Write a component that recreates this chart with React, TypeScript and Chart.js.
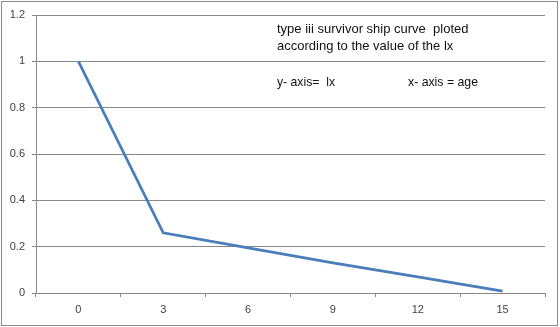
import React, { useEffect, useRef } from "react";
import { Chart, registerables } from "chart.js";

Chart.register(...registerables);

const ages = ["0", "3", "6", "9", "12", "15"];
const lxValues = [1, 0.26, 0.195, 0.13, 0.07, 0.008];
const yTicks = [0, 0.2, 0.4, 0.6, 0.8, 1, 1.2];
const noteLines = [
  "type iii survivor ship curve  ploted",
  "according to the value of the lx",
];
const yAxisNote = "y- axis=  lx";
const xAxisNote = "x- axis = age";

const annotationPlugin = {
  id: "notes",
  afterDraw(chart: any) {
    const ctx = chart.ctx as CanvasRenderingContext2D;
    ctx.save();
    ctx.strokeStyle = "#8a8a8a";
    ctx.lineWidth = 1;
    ctx.strokeRect(1.5, 1.5, 556, 324);
    ctx.fillStyle = "#111111";
    ctx.font = "13px 'Liberation Sans', Arial, sans-serif";
    ctx.textBaseline = "middle";
    ctx.textAlign = "left";
    ctx.fillText(noteLines[0], 277, 29, 196);
    ctx.fillText(noteLines[1], 277, 46, 180);
    ctx.fillText(yAxisNote, 277, 82, 58);
    ctx.fillText(xAxisNote, 408, 82, 70);
    ctx.restore();
  },
};

export default function App() {
  const ref = useRef<HTMLCanvasElement>(null);
  useEffect(() => {
    if (!ref.current) return;
    const chart = new Chart(ref.current, {
      type: "line",
      data: {
        labels: ages,
        datasets: [
          {
            data: lxValues,
            borderColor: "#4a7ebb",
            borderWidth: 2.75,
            pointRadius: 0,
            tension: 0,
            fill: false,
          },
        ],
      },
      options: {
        animation: false,
        responsive: false,
        maintainAspectRatio: false,
        layout: { padding: { left: 0, top: 15, right: 15, bottom: 0 } },
        plugins: { legend: { display: false }, tooltip: { enabled: false } },
        scales: {
          x: {
            type: "category",
            offset: true,
            grid: {
              display: true,
              offset: true,
              drawOnChartArea: false,
              drawTicks: true,
              tickLength: 4,
              color: "#888888",
            },
            border: { display: true, color: "#888888" },
            ticks: {
              color: "#404040",
              font: { family: "'Liberation Sans', Arial, sans-serif", size: 11 },
              padding: 6,
              maxRotation: 0,
            },
            afterFit(scale: any) {
              scale.height = 34;
            },
          },
          y: {
            min: 0,
            max: 1.2,
            afterBuildTicks(scale: any) {
              scale.ticks = yTicks.map((v) => ({ value: v }));
            },
            grid: {
              color: "#888888",
              tickLength: 4,
              drawTicks: true,
            },
            border: { display: true, color: "#888888" },
            ticks: {
              color: "#404040",
              font: { family: "'Liberation Sans', Arial, sans-serif", size: 11 },
              padding: 7,
              callback: (v: any) => String(Math.round(Number(v) * 10) / 10),
            },
            afterFit(scale: any) {
              scale.width = 36;
            },
          },
        },
      },
      plugins: [annotationPlugin],
    });
    return () => chart.destroy();
  }, []);
  return (
    <div style={{ position: "absolute", left: 0, top: 0, width: 560, height: 327, background: "#fff" }}>
      <canvas ref={ref} width={560} height={327} style={{ display: "block" }} />
    </div>
  );
}
